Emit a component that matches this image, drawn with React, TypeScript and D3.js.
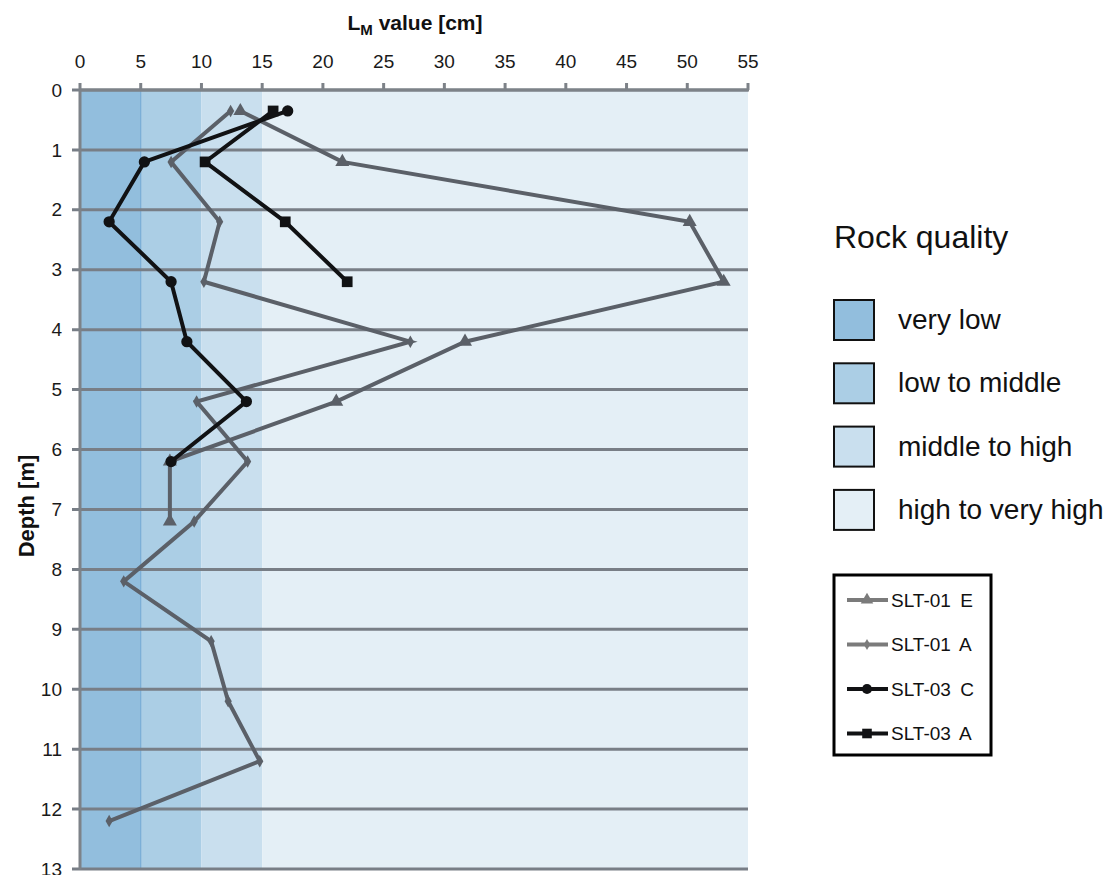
import React from "react";
import * as d3 from "d3";

// Depth profile of L_M values per borehole section
const depthsA = [0.35, 1.2, 2.2, 3.2, 4.2, 5.2, 6.2, 7.2, 8.2, 9.2, 10.2, 11.2, 12.2];
const slt01A = [12.4, 7.5, 11.5, 10.2, 27.2, 9.6, 13.8, 9.4, 3.6, 10.8, 12.2, 14.8, 2.4];

const depthsE = [0.35, 1.2, 2.2, 3.2, 4.2, 5.2, 6.2, 7.2];
const slt01E = [13.2, 21.6, 50.2, 53.0, 31.7, 21.1, 7.4, 7.4];

const depthsC = [0.35, 1.2, 2.2, 3.2, 4.2, 5.2, 6.2];
const slt03C = [17.1, 5.3, 2.4, 7.5, 8.8, 13.7, 7.5];

const depths03A = [0.35, 1.2, 2.2, 3.2];
const slt03A = [15.9, 10.3, 16.9, 22.0];

// Rock quality classes along the L_M axis
const qualityLabels = ["very low", "low to middle", "middle to high", "high to very high"];
const qualityBounds = [0, 5, 10, 15, 55];
const qualityColors = ["#92bedd", "#abcee5", "#c9dfee", "#e4eff6"];

const xTicks = d3.range(0, 56, 5);
const yTicks = d3.range(0, 14, 1);

const seriesNames = ["SLT-01 E", "SLT-01 A", "SLT-03 C", "SLT-03 A"];

const W = 1113;
const H = 875;
const plot = { left: 80, right: 748, top: 90, bottom: 869 };

const GRAY = "#5b6068";
const BLACK = "#111214";
const GRID = "#787e86";
const FONT = "'Liberation Sans', Arial, sans-serif";

type Marker = "triangle" | "diamond" | "circle" | "square";

function markerPath(kind: Marker, size: number): string {
  const sym =
    kind === "triangle"
      ? d3.symbolTriangle
      : kind === "diamond"
      ? d3.symbolDiamond
      : kind === "circle"
      ? d3.symbolCircle
      : d3.symbolSquare;
  return d3.symbol(sym, size)() || "";
}

export default function App() {
  const x = d3.scaleLinear().domain([0, 55]).range([plot.left, plot.right]);
  const y = d3.scaleLinear().domain([0, 13]).range([plot.top, plot.bottom]);

  const line = d3
    .line<[number, number]>()
    .x((d) => x(d[0]))
    .y((d) => y(d[1]));

  const series = [
    { name: seriesNames[0], vals: slt01E, depths: depthsE, color: GRAY, marker: "triangle" as Marker, size: 85 },
    { name: seriesNames[1], vals: slt01A, depths: depthsA, color: GRAY, marker: "diamond" as Marker, size: 45 },
    { name: seriesNames[2], vals: slt03C, depths: depthsC, color: BLACK, marker: "circle" as Marker, size: 100 },
    { name: seriesNames[3], vals: slt03A, depths: depths03A, color: BLACK, marker: "square" as Marker, size: 115 },
  ];

  const legendColors = ["#7b7b7b", "#7b7b7b", BLACK, BLACK];

  return (
    <svg width={W} height={H} style={{ position: "absolute", left: 0, top: 0, background: "#fff" }} fontFamily={FONT}>
      {/* quality bands */}
      {qualityColors.map((c, i) => (
        <rect
          key={i}
          x={x(qualityBounds[i])}
          y={plot.top}
          width={x(qualityBounds[i + 1]) - x(qualityBounds[i])}
          height={plot.bottom - plot.top}
          fill={c}
        />
      ))}
      <line x1={x(5)} x2={x(5)} y1={plot.top} y2={plot.bottom} stroke="#6fa6d2" strokeWidth={1} />

      {/* horizontal grid */}
      {yTicks.map((t) => (
        <line key={t} x1={plot.left - 8} x2={plot.right} y1={y(t)} y2={y(t)} stroke={GRID} strokeWidth={3} />
      ))}

      {/* left axis */}
      <line x1={plot.left} x2={plot.left} y1={plot.top} y2={plot.bottom + 1} stroke="#7d8288" strokeWidth={3} />
      {yTicks.map((t) => (
        <text key={t} x={62} y={y(t)} dy="0.35em" textAnchor="end" fontSize={19} fill="#1a1a1a">
          {t}
        </text>
      ))}

      {/* top axis */}
      <line x1={plot.left - 1} x2={plot.right + 1} y1={plot.top} y2={plot.top} stroke="#7d8288" strokeWidth={3} />
      {xTicks.map((t) => (
        <g key={t}>
          <line x1={x(t)} x2={x(t)} y1={plot.top} y2={plot.top - 7} stroke="#7d8288" strokeWidth={3} />
          <text x={x(t)} y={68} textAnchor="middle" fontSize={19} fill="#1a1a1a">
            {t}
          </text>
        </g>
      ))}

      {/* axis titles */}
      <text x={(plot.left + plot.right) / 2 + 1} y={30} textAnchor="middle" fontSize={21} fontWeight="bold" fill="#111">
        L<tspan fontSize={15} dy={5}>M</tspan>
        <tspan dy={-5}> value [cm]</tspan>
      </text>
      <text
        transform={`translate(34,${506}) rotate(-90)`}
        textAnchor="middle"
        fontSize={22}
        fontWeight="bold"
        fill="#111"
      >
        Depth [m]
      </text>

      {/* series */}
      {series.map((s) => {
        const pts: [number, number][] = s.vals.map((v, i) => [v, s.depths[i]]);
        return (
          <g key={s.name}>
            <path d={line(pts) || ""} fill="none" stroke={s.color} strokeWidth={4} strokeLinejoin="miter" />
            {pts.map((p, i) => (
              <path
                key={i}
                d={markerPath(s.marker, s.size)}
                transform={`translate(${x(p[0])},${y(p[1])})`}
                fill={s.color}
              />
            ))}
          </g>
        );
      })}

      {/* rock quality legend */}
      <text x={834} y={248} fontSize={32} fill="#111">
        Rock quality
      </text>
      {qualityLabels.map((lab, i) => {
        const top = 300 + i * 63.3;
        return (
          <g key={lab}>
            <rect x={834} y={top} width={40} height={40} fill={qualityColors[i]} stroke="#111" strokeWidth={2} />
            <text x={898} y={top + 29} fontSize={28} fill="#111">
              {lab}
            </text>
          </g>
        );
      })}

      {/* series legend */}
      <rect x={834} y={575} width={157} height={180} fill="#fff" stroke="#000" strokeWidth={3} />
      {series.map((s, i) => {
        const cy = 600 + i * 44.5;
        return (
          <g key={s.name}>
            <line x1={847} x2={888} y1={cy} y2={cy} stroke={legendColors[i]} strokeWidth={4} />
            <path d={markerPath(s.marker, s.size * 0.8)} transform={`translate(867,${cy})`} fill={legendColors[i]} />
            <text x={891} y={cy} dy="0.35em" fontSize={19} fill="#111" wordSpacing={4}>
              {s.name}
            </text>
          </g>
        );
      })}
    </svg>
  );
}
